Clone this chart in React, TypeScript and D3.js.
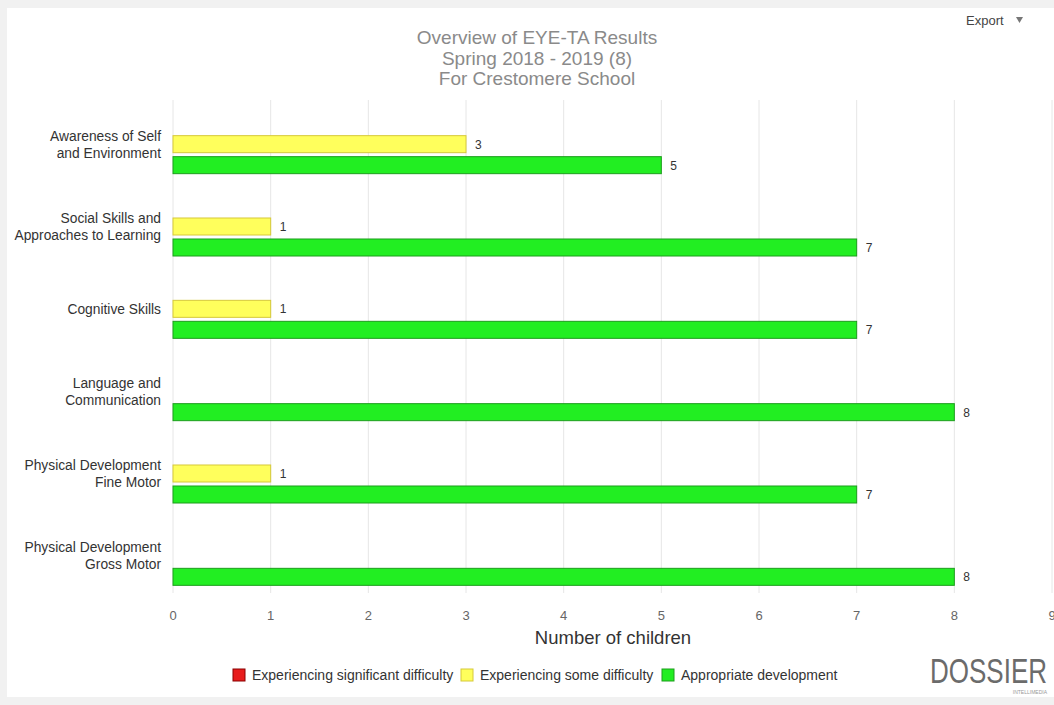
import React from "react";
import * as d3 from "d3";

const categories = [
  ["Awareness of Self", "and Environment"],
  ["Social Skills and", "Approaches to Learning"],
  ["Cognitive Skills"],
  ["Language and", "Communication"],
  ["Physical Development", "Fine Motor"],
  ["Physical Development", "Gross Motor"],
];
const seriesNames = [
  "Experiencing significant difficulty",
  "Experiencing some difficulty",
  "Appropriate development",
];
const significant: (number | null)[] = [null, null, null, null, null, null];
const some: (number | null)[] = [3, 1, 1, null, 1, null];
const appropriate: (number | null)[] = [5, 7, 7, 8, 7, 8];
const xTicks = [0, 1, 2, 3, 4, 5, 6, 7, 8, 9];
const titleLines = ["Overview of EYE-TA Results", "Spring 2018 - 2019 (8)", "For Crestomere School"];

const fills = ["#e81c1c", "#ffff5c", "#22ee22"];
const strokes = ["#8a0000", "#d6c93a", "#1c9e1c"];

export default function App() {
  const W = 1054, H = 705;
  const font = "'Liberation Sans', Arial, sans-serif";
  const x = d3.scaleLinear().domain([0, 9]).range([173, 1052]);
  const y = d3.scaleBand<number>().domain(d3.range(categories.length)).range([103, 597]);
  const inner = d3.scaleBand<number>().domain([0, 1, 2]).range([-31.5, 31.5]).paddingInner(0.19).paddingOuter(0.095);
  const series = [significant, some, appropriate];
  const legendX = [233, 461, 662];

  return (
    <svg width={W} height={H} style={{ position: "absolute", left: 0, top: 0 }} fontFamily={font}>
      <rect x={0} y={0} width={W} height={H} fill="#f1f1f1" />
      <rect x={7} y={8} width={W - 7} height={689} fill="#ffffff" />
      {titleLines.map((t, i) => (
        <text key={i} x={537} y={44 + i * 20.5} textAnchor="middle" fontSize={19} fill="#8a8a8a">{t}</text>
      ))}
      <text x={966} y={25} fontSize={13} fill="#444">Export</text>
      <path d="M1016,17 L1023,17 L1019.5,23 Z" fill="#777" />
      {xTicks.map((t) => (
        <g key={t}>
          <line x1={x(t)} x2={x(t)} y1={100} y2={593} stroke="#e6e6e6" strokeWidth={1} />
          <text x={x(t)} y={620} textAnchor="middle" fontSize={13} fill="#666">{t}</text>
        </g>
      ))}
      {categories.map((lines, i) => {
        const cy = (y(i) as number) + y.bandwidth() / 2;
        const n = lines.length;
        return (
          <text key={i} x={161} textAnchor="end" fontSize={13.8} fill="#333">
            {lines.map((l, j) => (
              <tspan key={j} x={161} y={cy + 5 + (j - (n - 1) / 2) * 17}>{l}</tspan>
            ))}
          </text>
        );
      })}
      {series.map((s, si) =>
        s.map((v, i) => {
          if (v == null) return null;
          const cy = (y(i) as number) + y.bandwidth() / 2;
          const by = cy + (inner(si) as number);
          const bh = inner.bandwidth();
          return (
            <g key={si + "-" + i}>
              <rect x={x(0)} y={by} width={x(v) - x(0)} height={bh} fill={fills[si]} stroke={strokes[si]} strokeWidth={1} />
              <text x={x(v) + 9} y={by + bh / 2 + 4.5} fontSize={12} fill="#333">{v}</text>
            </g>
          );
        })
      )}
      <text x={613} y={644} textAnchor="middle" fontSize={18.5} fill="#333">Number of children</text>
      {seriesNames.map((name, i) => (
        <g key={i}>
          <rect x={legendX[i]} y={669} width={12} height={12} fill={fills[i]} stroke={strokes[i]} strokeWidth={1} />
          <text x={legendX[i] + 19} y={680} fontSize={14} fill="#333">{name}</text>
        </g>
      ))}
      <text x={1047} y={683} textAnchor="end" fontSize={35} fill="#6b6b6b" textLength={117} lengthAdjust="spacingAndGlyphs"
        fontFamily="'Liberation Sans Narrow', 'Liberation Sans', Arial, sans-serif">DOSSIER</text>
      <text x={1047} y={694} textAnchor="end" fontSize={5} fill="#999">INTELLIMEDIA</text>
    </svg>
  );
}
